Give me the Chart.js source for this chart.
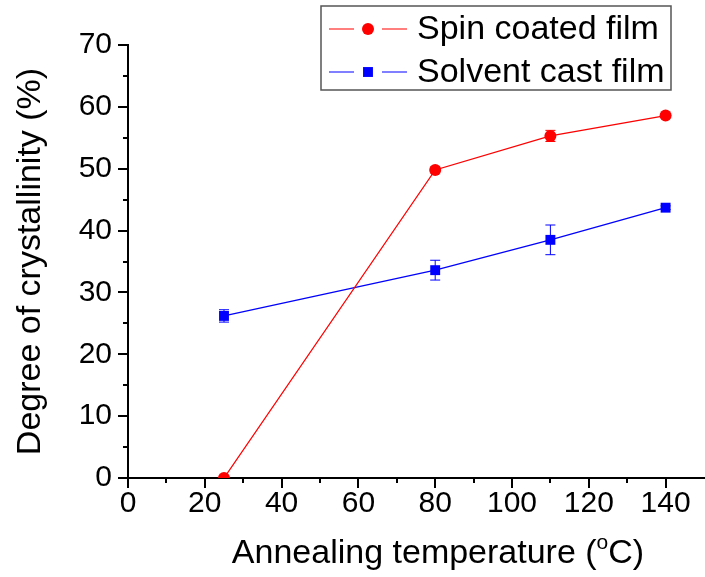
<!DOCTYPE html>
<html>
<head>
<meta charset="utf-8">
<script src="https://cdn.jsdelivr.net/npm/chart.js@4.4.0/dist/chart.umd.min.js"></script>
<style>
  html, body { margin: 0; padding: 0; background: #fff; }
  #wrap { width: 705px; height: 577px; }
</style>
</head>
<body>
<div id="wrap"><canvas id="crystChart" width="705" height="577"></canvas></div>
<script>
// data
var temps = [25, 80, 110, 140];
var spinCoated = [0, 49.8, 55.3, 58.6];
var spinErr = [0, 0.5, 0.9, 0.3];
var solventCast = [26.2, 33.6, 38.5, 43.7];
var solventErr = [1.0, 1.6, 2.4, 0.3];
var seriesNames = ["Spin coated film", "Solvent cast film"];
var xTicks = [0, 20, 40, 60, 80, 100, 120, 140];

var FONT = "'Liberation Sans', Arial, sans-serif";

function toPoints(xs, ys) {
  return xs.map(function (x, i) { return { x: x, y: ys[i] }; });
}

// error bars, drawn through the scales
var errorBars = {
  id: 'errorBars',
  afterDatasetsDraw: function (chart) {
    var ctx = chart.ctx, xs = chart.scales.x, ys = chart.scales.y;
    chart.data.datasets.forEach(function (ds) {
      ctx.save();
      ctx.strokeStyle = ds.borderColor;
      ctx.lineWidth = 1;
      ds.data.forEach(function (p, i) {
        var e = ds.errors[i];
        if (!e) return;
        var px = xs.getPixelForValue(p.x);
        var top = ys.getPixelForValue(p.y + e);
        var bot = ys.getPixelForValue(p.y - e);
        ctx.beginPath();
        ctx.moveTo(px, top); ctx.lineTo(px, bot);
        ctx.moveTo(px - 5, top); ctx.lineTo(px + 5, top);
        ctx.moveTo(px - 5, bot); ctx.lineTo(px + 5, bot);
        ctx.stroke();
      });
      ctx.restore();
    });
  }
};

// outward major/minor ticks, legend box, x title with superscript
var extras = {
  id: 'extras',
  afterDraw: function (chart) {
    var ctx = chart.ctx, xs = chart.scales.x, ys = chart.scales.y, ca = chart.chartArea;
    ctx.save();
    ctx.strokeStyle = '#000';
    ctx.lineWidth = 2;
    ctx.beginPath();
    for (var v = 0; v < 150; v += 10) {
      var px = Math.round(xs.getPixelForValue(v));
      ctx.moveTo(px, ca.bottom);
      ctx.lineTo(px, ca.bottom + (v % 20 === 0 ? 10 : 5));
    }
    for (var w = 0; w <= 70; w += 5) {
      var py = Math.round(ys.getPixelForValue(w));
      ctx.moveTo(ca.left, py);
      ctx.lineTo(ca.left - (w % 10 === 0 ? 10 : 5), py);
    }
    ctx.stroke();

    // legend
    var bx = 321, by = 6, bw = 350, bh = 84;
    ctx.strokeStyle = '#555';
    ctx.lineWidth = 1.5;
    ctx.strokeRect(bx, by, bw, bh);
    chart.data.datasets.forEach(function (ds, i) {
      var cy = by + 23 + i * 43;
      ctx.strokeStyle = ds.borderColor;
      ctx.lineWidth = 1.2;
      ctx.beginPath();
      ctx.moveTo(bx + 8, cy); ctx.lineTo(bx + 33, cy);
      ctx.moveTo(bx + 61, cy); ctx.lineTo(bx + 86, cy);
      ctx.stroke();
      ctx.fillStyle = ds.pointBackgroundColor;
      Chart.helpers.drawPoint(ctx, {
        pointStyle: ds.pointStyle, radius: ds.pointRadius, borderWidth: 0, rotation: 0
      }, bx + 47, cy);
      ctx.fillStyle = '#000';
      ctx.font = '34px ' + FONT;
      ctx.textBaseline = 'middle';
      ctx.textAlign = 'left';
      ctx.fillText(ds.label, bx + 96, cy + 1);
    });

    // x axis title
    var big = '34px ' + FONT, small = '21px ' + FONT;
    var a = 'Annealing temperature (', b = 'o', c = 'C)';
    ctx.font = big; var wa = ctx.measureText(a).width, wc = ctx.measureText(c).width;
    ctx.font = small; var wb = ctx.measureText(b).width;
    var total = wa + wb + wc;
    var x0 = (ca.left + ca.right) / 2 + 22 - total / 2;
    var base = 563;
    ctx.fillStyle = '#000';
    ctx.textBaseline = 'alphabetic';
    ctx.font = big; ctx.fillText(a, x0, base);
    ctx.font = small; ctx.fillText(b, x0 + wa, base - 14);
    ctx.font = big; ctx.fillText(c, x0 + wa + wb, base);
    ctx.restore();
  }
};

new Chart(document.getElementById('crystChart'), {
  type: 'line',
  data: {
    datasets: [
      {
        label: seriesNames[0],
        data: toPoints(temps, spinCoated),
        errors: spinErr,
        borderColor: '#ff0000',
        backgroundColor: '#ff0000',
        pointBackgroundColor: '#ff0000',
        pointBorderWidth: 0,
        pointStyle: 'circle',
        pointRadius: 6,
        borderWidth: 1.3,
        tension: 0
      },
      {
        label: seriesNames[1],
        data: toPoints(temps, solventCast),
        errors: solventErr,
        borderColor: '#0000ff',
        backgroundColor: '#0000ff',
        pointBackgroundColor: '#0000ff',
        pointBorderWidth: 0,
        pointStyle: 'rect',
        pointRadius: 7,
        borderWidth: 1.3,
        tension: 0
      }
    ]
  },
  options: {
    responsive: false,
    animation: false,
    layout: { autoPadding: false, padding: { top: 45, right: 1, left: 0, bottom: 0 } },
    plugins: {
      legend: { display: false },
      tooltip: { enabled: false }
    },
    scales: {
      x: {
        type: 'linear',
        min: 0,
        max: 150,
        grid: { display: false, drawTicks: false },
        border: { display: true, color: '#000', width: 2 },
        afterBuildTicks: function (s) {
          s.ticks = xTicks.map(function (v) { return { value: v }; });
        },
        afterFit: function (s) {
          s.height = 99;
        },
        ticks: {
          autoSkip: false,
          maxRotation: 0,
          padding: 8,
          color: '#000',
          font: { family: FONT, size: 30 }
        },
        title: { display: false }
      },
      y: {
        min: 0,
        max: 70,
        grid: { display: false, drawTicks: false },
        border: { display: true, color: '#000', width: 2 },
        afterFit: function (s) { s.width = 128; },
        ticks: {
          stepSize: 10,
          padding: 16,
          color: '#000',
          font: { family: FONT, size: 30 }
        },
        title: {
          display: true,
          text: 'Degree of crystallinity (%)',
          color: '#000',
          font: { family: FONT, size: 34 },
          padding: { top: 10, bottom: 0 }
        }
      }
    }
  },
  plugins: [errorBars, extras]
});
</script>
</body>
</html>
